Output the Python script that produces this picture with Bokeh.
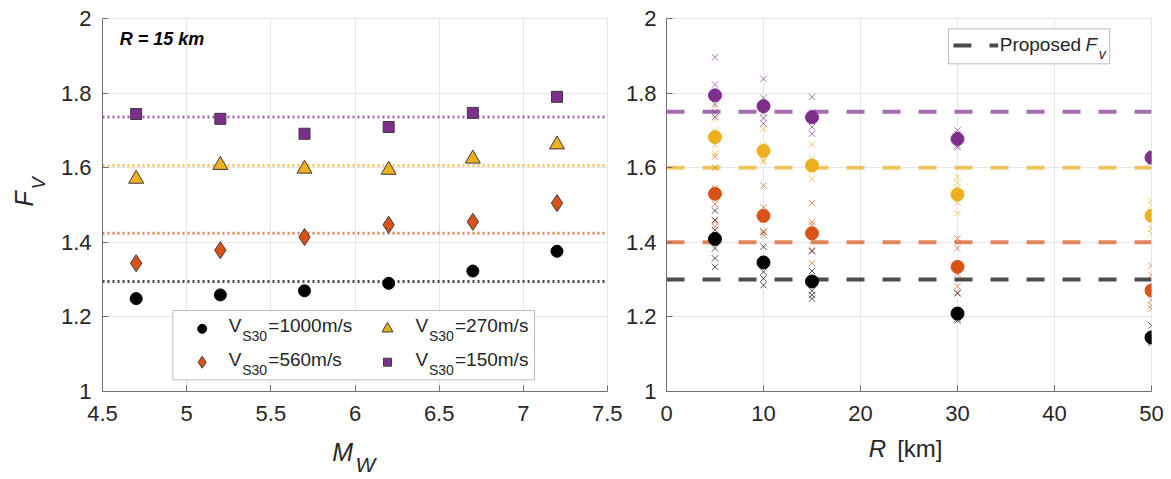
import math
from bokeh.plotting import figure
from bokeh.layouts import row, column
from bokeh.models import (FixedTicker, CustomJSTickFormatter, Label, BoxAnnotation,
                          Range1d, Span)
from bokeh.embed import file_html
from bokeh.resources import INLINE

# ---------------- data ----------------
# left panel: R = 15 km, F_v versus Mw
mw = [4.7, 5.2, 5.7, 6.2, 6.7, 7.2]
fv_vs1000 = [1.249, 1.259, 1.270, 1.290, 1.323, 1.376]
fv_vs560 = [1.344, 1.379, 1.414, 1.447, 1.455, 1.505]
fv_vs270 = [1.570, 1.607, 1.597, 1.594, 1.624, 1.662]
fv_vs150 = [1.744, 1.731, 1.691, 1.709, 1.747, 1.790]
avg_over_mw = [1.295, 1.424, 1.606, 1.736]          # dotted lines: 1000, 560, 270, 150

# right panel: F_v versus distance R
r_km = [5, 10, 15, 30, 50]
mean_vs1000 = [1.409, 1.346, 1.295, 1.209, 1.145]
mean_vs560 = [1.530, 1.471, 1.424, 1.334, 1.271]
mean_vs270 = [1.682, 1.645, 1.606, 1.528, 1.471]
mean_vs150 = [1.794, 1.765, 1.735, 1.677, 1.627]

cross_vs1000 = [[1.334, 1.357, 1.384, 1.433, 1.460, 1.485],
                [1.285, 1.303, 1.321, 1.350, 1.388, 1.428],
                [1.249, 1.259, 1.270, 1.290, 1.323, 1.376],
                [1.190, 1.195, 1.200, 1.205, 1.210, 1.263],
                [1.130, 1.135, 1.140, 1.145, 1.150, 1.177]]
cross_vs560 = [[1.442, 1.456, 1.503, 1.545, 1.600, 1.630],
               [1.420, 1.428, 1.460, 1.470, 1.494, 1.552],
               [1.344, 1.379, 1.414, 1.447, 1.455, 1.505],
               [1.265, 1.282, 1.315, 1.340, 1.384, 1.410],
               [1.222, 1.231, 1.245, 1.270, 1.312, 1.337]]
cross_vs270 = [[1.600, 1.637, 1.661, 1.700, 1.730, 1.764],
               [1.616, 1.620, 1.640, 1.650, 1.660, 1.704],
               [1.570, 1.594, 1.597, 1.607, 1.624, 1.662],
               [1.478, 1.506, 1.530, 1.545, 1.560, 1.576],
               [1.424, 1.437, 1.460, 1.480, 1.500, 1.511]]
cross_vs150 = [[1.736, 1.749, 1.770, 1.790, 1.823, 1.896],
               [1.718, 1.733, 1.747, 1.770, 1.787, 1.838],
               [1.691, 1.709, 1.731, 1.744, 1.747, 1.790],
               [1.655, 1.660, 1.670, 1.680, 1.690, 1.700],
               [1.615, 1.620, 1.625, 1.630, 1.635, 1.640]]
proposed_fv = [1.30, 1.40, 1.60, 1.75]               # 1000, 560, 270, 150

vs_text = ["=1000m/s", "=560m/s", "=270m/s", "=150m/s"]
x_ticks_mw = [4.5, 5, 5.5, 6, 6.5, 7, 7.5]
x_ticks_r = [0, 10, 20, 30, 40, 50]
y_ticks = [1, 1.2, 1.4, 1.6, 1.8, 2]

# ---------------- style ----------------
FONT = "Liberation Sans"
TXT = "#262626"
AX = "#707070"
GRID = "#E6E6E6"
C_BLACK, C_ORANGE, C_YELLOW, C_PURPLE = "#000000", "#D95319", "#EDB120", "#7E2F8E"
COLS = [C_BLACK, C_ORANGE, C_YELLOW, C_PURPLE]

# page geometry (pixels)
FY_TOP, FY_BOT = 18, 391
L_FX0, L_FX1 = 102, 607
R_FX0, R_FX1 = 663, 1151
YLAB_W = 50          # strip holding the vertical axis title
MAIN_H = 430         # height of the two chart canvases
XLAB_H = 49          # strip holding the horizontal axis titles


def lx(px):
    return 4.5 + (px - L_FX0) * 3.0 / (L_FX1 - L_FX0)


def rx(px):
    return (px - R_FX0) * 50.0 / (R_FX1 - R_FX0)


def fy(py):
    return 1 + (FY_BOT - py) / (FY_BOT - FY_TOP)


FMT = "return (Math.round(tick*10)/10).toString();"


def make_fig(xr, xticks, width, bl, br, ystand):
    p = figure(width=width, height=MAIN_H, x_range=Range1d(*xr), y_range=Range1d(1, 2),
               output_backend="svg", toolbar_location=None,
               min_border_left=bl, min_border_right=br, min_border_top=FY_TOP,
               min_border_bottom=MAIN_H - FY_BOT)
    p.outline_line_color = GRID
    p.background_fill_color = "white"
    p.border_fill_color = "white"
    p.xaxis.ticker = FixedTicker(ticks=xticks)
    p.yaxis.ticker = FixedTicker(ticks=y_ticks)
    p.xgrid.ticker = FixedTicker(ticks=xticks)
    p.ygrid.ticker = FixedTicker(ticks=y_ticks)
    for g in (p.xgrid[0], p.ygrid[0]):
        g.grid_line_color = GRID
        g.grid_line_width = 1
    for ax in (p.xaxis[0], p.yaxis[0]):
        ax.formatter = CustomJSTickFormatter(code=FMT)
        ax.major_tick_in = 6
        ax.major_tick_out = 0
        ax.minor_tick_line_color = None
        ax.axis_line_color = AX
        ax.major_tick_line_color = AX
        ax.major_label_text_font = FONT
        ax.major_label_text_font_size = "22px"
        ax.major_label_text_color = TXT
    p.xaxis.major_label_standoff = 14
    p.yaxis.major_label_standoff = ystand
    return p


def label_fig(width, height, x0, y0):
    """Blank strip (pixel coordinates, y downwards) that carries axis titles."""
    f = figure(width=width, height=height, x_range=Range1d(x0, x0 + width),
               y_range=Range1d(y0 + height, y0), output_backend="svg",
               toolbar_location=None, x_axis_location=None, y_axis_location=None,
               min_border=0)
    f.outline_line_color = None
    f.grid.grid_line_color = None
    f.background_fill_color = "white"
    f.border_fill_color = "white"
    return f


def label(p, x, y, text, size, style="normal", align="left", angle=0.0, color=TXT):
    # y is the vertical centre of the text line
    p.add_layout(Label(x=x, y=y, text=text, text_font=FONT, text_font_size=f"{size}px",
                       text_font_style=style, text_align=align, text_baseline="middle",
                       angle=angle, text_color=color))


# ================= left panel =================
p1 = make_fig((4.5, 7.5), x_ticks_mw, R_FX0 - 41 - YLAB_W, L_FX0 - YLAB_W,
              R_FX0 - 41 - L_FX1, 11)

for m, c in zip(avg_over_mw, COLS):
    p1.add_layout(Span(location=m, dimension="width", line_color=c, line_alpha=0.72,
                       line_width=3, line_dash="2 3", level="underlay"))

p1.scatter(mw, fv_vs1000, marker="circle", size=12, fill_color=C_BLACK, line_color=C_BLACK)
p1.scatter(mw, fv_vs560, marker="diamond", size=17, fill_color=C_ORANGE, line_color="#3a3a3a")
p1.scatter(mw, fv_vs270, marker="triangle", size=15, fill_color=C_YELLOW, line_color="#3a3a3a")
p1.scatter(mw, fv_vs150, marker="square", size=11, fill_color=C_PURPLE, line_color="#3a3a3a")

label(p1, lx(119.3), fy(38), "R = 15 km", 18, style="bold italic", color="#000000")

# legend (manual, two columns)
p1.add_layout(BoxAnnotation(left=lx(172.3), right=lx(534), top=fy(310), bottom=fy(379.3),
                            fill_color="white", fill_alpha=1.0, line_color=TXT,
                            line_width=1, level="underlay"))
leg_entries = [  # (col, row, marker, size, color, edge, text)
    (0, 0, "circle", 9, C_BLACK, C_BLACK, vs_text[0]),
    (1, 0, "triangle", 11, C_YELLOW, "#3a3a3a", vs_text[2]),
    (0, 1, "diamond", 12, C_ORANGE, "#3a3a3a", vs_text[1]),
    (1, 1, "square", 8, C_PURPLE, "#3a3a3a", vs_text[3]),
]
mk_x = [201.7, 387.0]
tx_x = [228.3, 415.0]
row_y = [328.3, 361.7]
text_y = [325.2, 358.6]
for col, rw, mk, sz, fc, lc, txt in leg_entries:
    p1.scatter([lx(mk_x[col])], [fy(row_y[rw])], marker=mk, size=sz, fill_color=fc,
               line_color=lc)
    label(p1, lx(tx_x[col]), fy(text_y[rw]), "V", 19)
    label(p1, lx(tx_x[col] + 13.4), fy(text_y[rw] + 10.7), "S30", 14)
    label(p1, lx(tx_x[col] + 39.5), fy(text_y[rw]), txt, 19)

# ================= right panel =================
p2 = make_fig((0, 50), x_ticks_r, 1171 - (R_FX0 - 41), 41, 1171 - R_FX1, 10)

for v, c in zip(proposed_fv, COLS):
    p2.add_layout(Span(location=v, dimension="width", line_color=c, line_alpha=0.7,
                       line_width=4, line_dash="18 18", level="underlay"))

for cross, c in zip([cross_vs1000, cross_vs560, cross_vs270, cross_vs150], COLS):
    xs = [r for r, vals in zip(r_km, cross) for _ in vals]
    ys = [v for vals in cross for v in vals]
    p2.scatter(xs, ys, marker="x", size=9, line_color=c, line_alpha=0.65, line_width=1)

for means, c in zip([mean_vs1000, mean_vs560, mean_vs270, mean_vs150], COLS):
    p2.scatter(r_km, means, marker="circle", size=13, fill_color=c, line_color=c)

# legend
p2.add_layout(BoxAnnotation(left=rx(946.7), right=rx(1109), top=fy(28.3), bottom=fy(63.3),
                            fill_color="white", fill_alpha=1.0, line_color=TXT,
                            line_width=1, level="underlay"))
p2.line([rx(951.7), rx(996.7)], [fy(45), fy(45)], line_color=C_BLACK, line_alpha=0.7,
        line_width=4, line_dash="18 18")
label(p2, rx(998.3), fy(43.7), "Proposed", 19)
label(p2, rx(1084.7), fy(43.7), "F", 19, style="italic")
label(p2, rx(1098), fy(53), "v", 14, style="italic")

# ================= axis-title strips =================
ylab = label_fig(YLAB_W, MAIN_H, 0, 0)
label(ylab, 23, 208, "F", 25, style="italic", align="center", angle=math.pi / 2)
label(ylab, 38, 190, "V", 18, style="italic", align="center", angle=math.pi / 2)

xlab = label_fig(1171, XLAB_H, 0, MAIN_H)
label(xlab, 331.7, 451, "M", 25, style="italic")
label(xlab, 355, 464, "W", 21, style="italic")
label(xlab, 868.3, 447.5, "R", 24, style="italic")
label(xlab, 896.7, 447.5, "[km]", 24)

layout = column(row(ylab, p1, p2), xlab)
open("out.html", "w").write(file_html(layout, INLINE))
